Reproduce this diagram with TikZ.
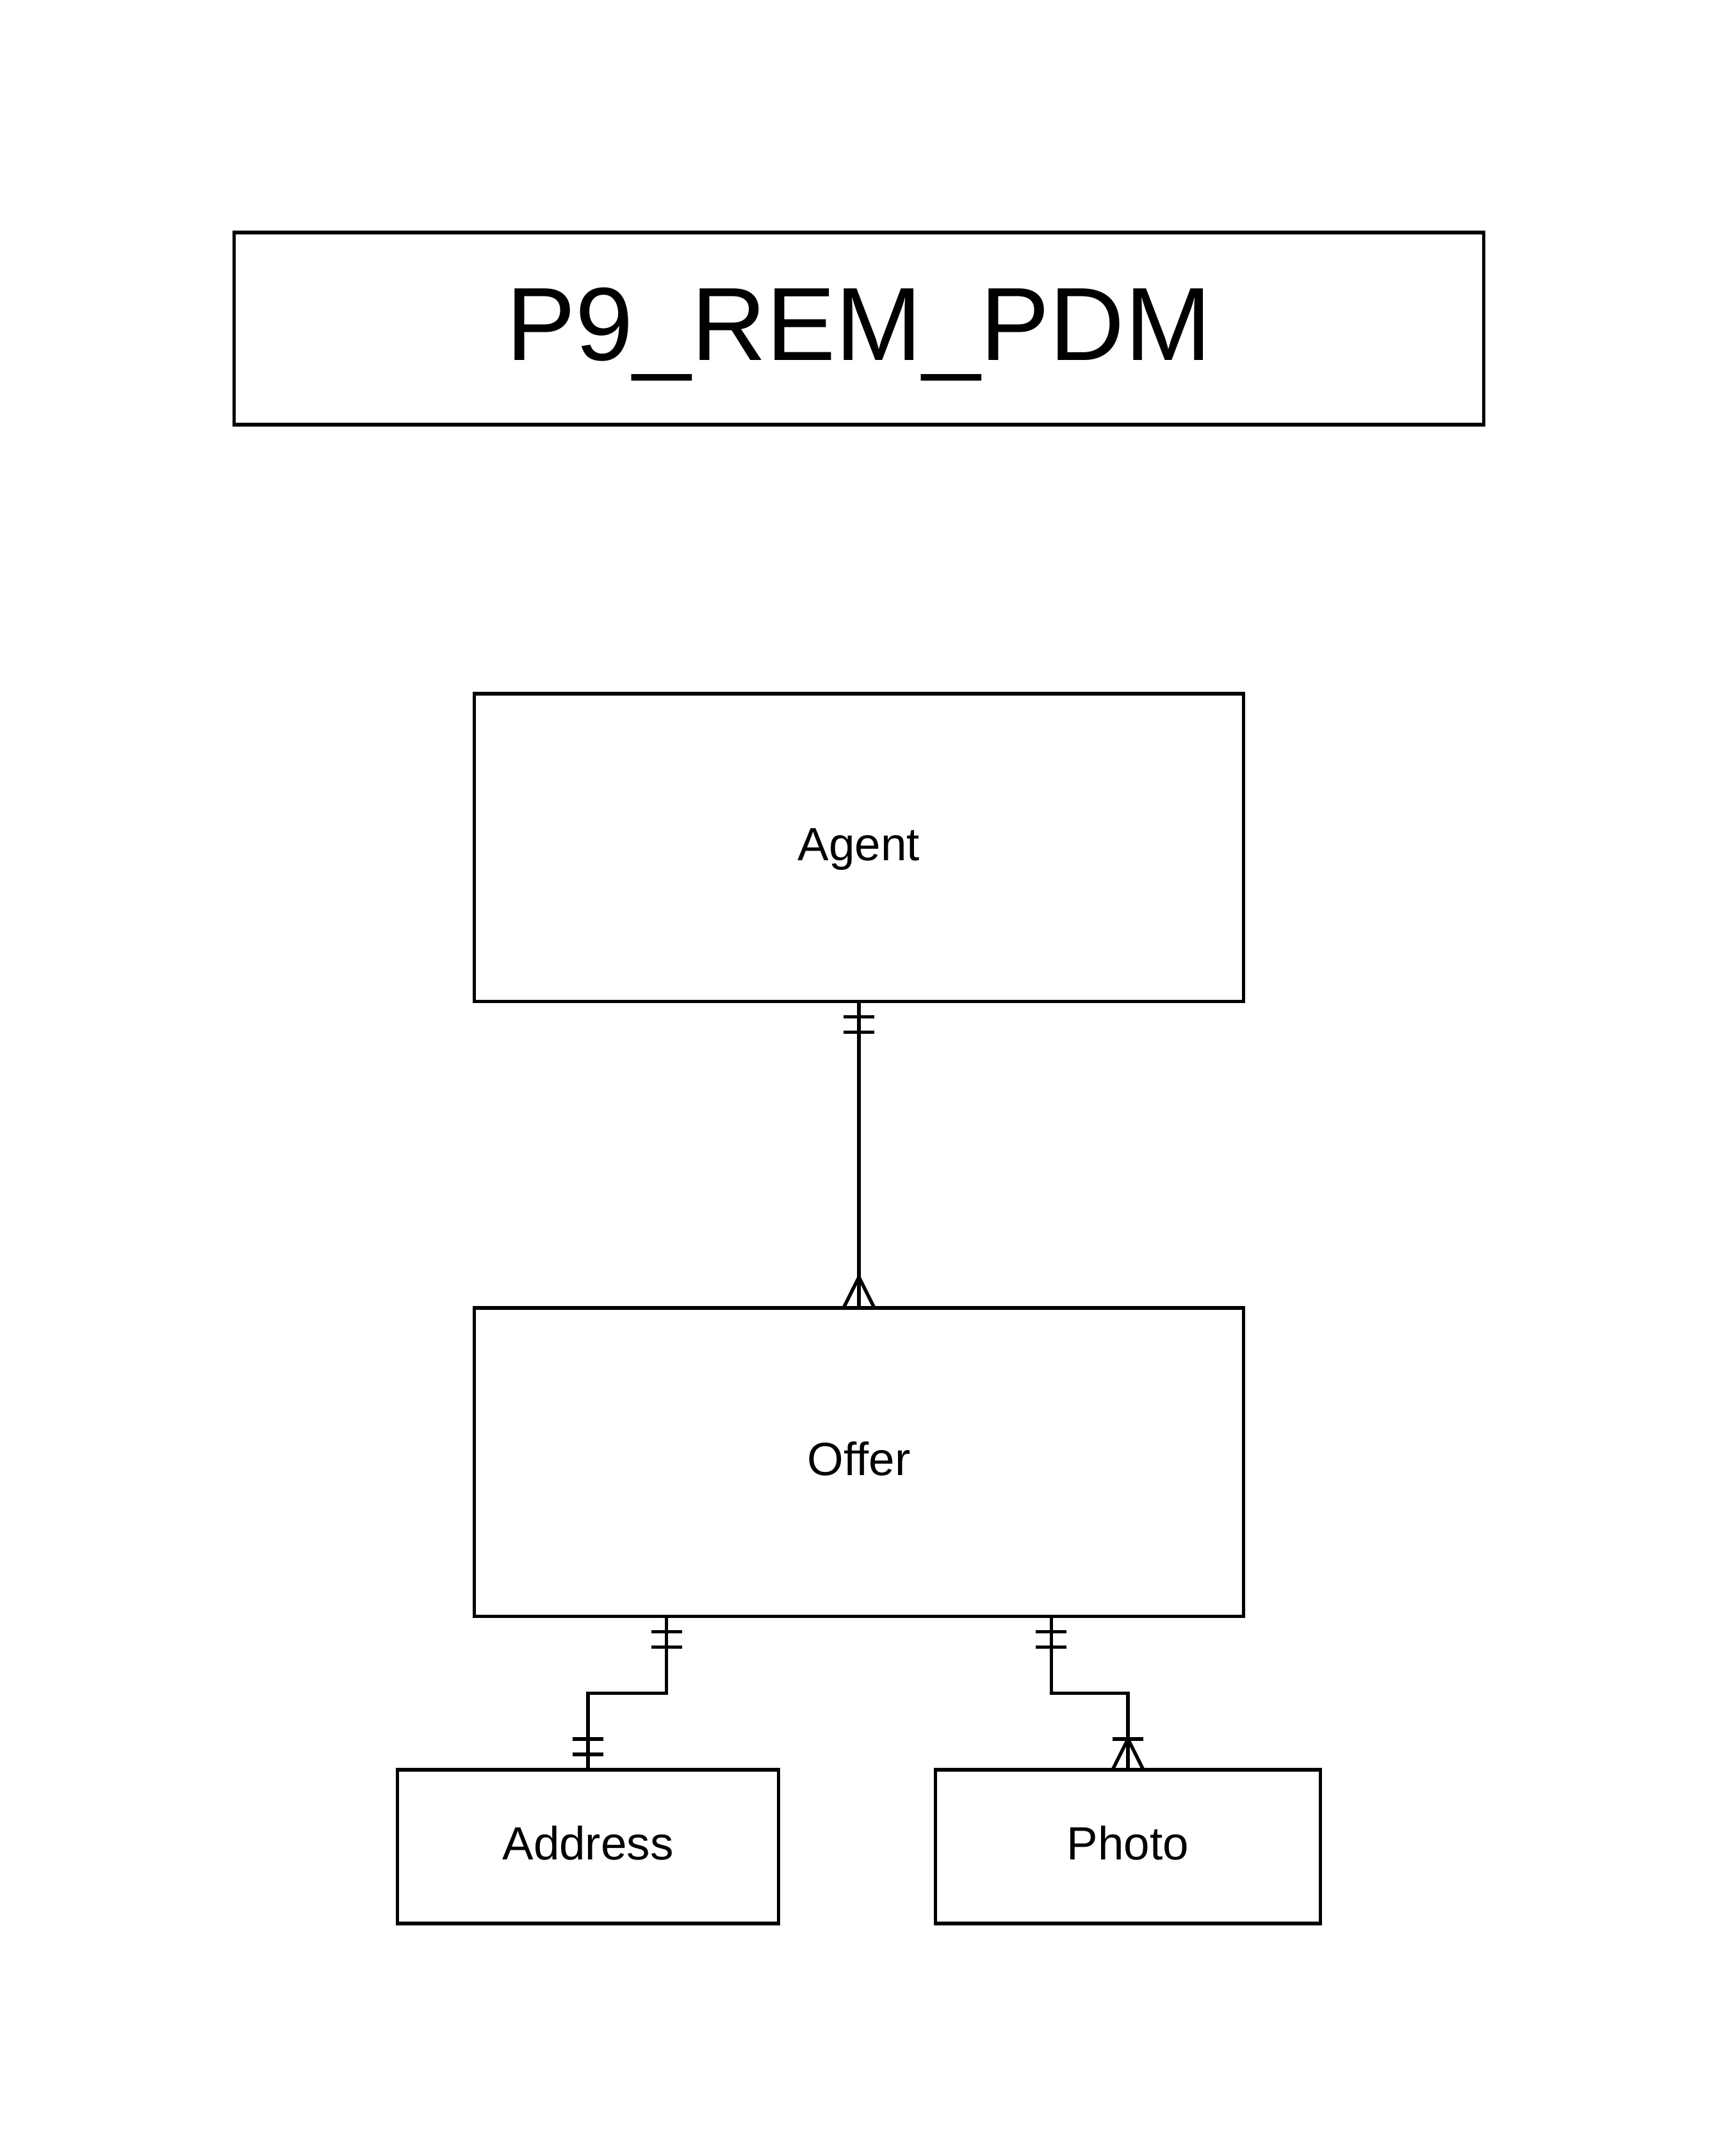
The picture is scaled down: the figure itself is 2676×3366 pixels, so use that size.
\documentclass[tikz,border=0pt]{standalone}
\usepackage{fontspec}
\setmainfont{Liberation Sans}
\usepackage{tikz}
\usetikzlibrary{
    calc,
    positioning
}
\tikzset{
    entity/.style={draw, rectangle, outer sep=0pt, inner sep=0pt,
        font=\fontsize{20.7}{24}\selectfont, text height=18.6pt, text depth=6.7pt},
    titlebox/.style={draw, rectangle, outer sep=0pt, inner sep=0pt,
        minimum width=19.5cm, minimum height=3cm,
        font=\fontsize{46.2}{55}\selectfont, text height=41.6pt, text depth=13.2pt},
    pics/exactlyone/.style={code={
        \draw (-24, 24) -- (24, 24);
        \draw (-24, 48) -- (24, 48);
    }},
    pics/many/.style={code={
        \draw (-24, 0) -- (0, 48) -- (24, 0);
    }},
    pics/oneormany/.style={code={
        \draw (-24, 48) -- (24, 48);
        \draw (-24, 0) -- (0, 48) -- (24, 0);
    }}
}

\begin{document}
\begin{tikzpicture}[x=0.01cm, y=-0.01cm, line width=1.51pt]
    \useasboundingbox (0, 0) rectangle (2676, 3366);
    \node[titlebox] (title) at (1341, 513) {P9\_REM\_PDM};
    \node[entity, minimum width=12cm, minimum height=4.8cm] (agent) at (1341, 1323) {Agent};
    \node[entity, minimum width=12cm, minimum height=4.81cm] (offer) at (1341, 2282.5) {Offer};
    \node[entity, minimum width=5.94cm, minimum height=2.4cm] (address) at (918, 2883) {Address};
    \node[entity, minimum width=6cm, minimum height=2.4cm] (photo) at (1761, 2883) {Photo};
    \coordinate (offer a) at ([xshift=-3cm]offer.south);
    \coordinate (offer p) at ([xshift=3cm]offer.south);
    \draw (agent.south) -- (offer.north);
    \draw (offer a) -- ++(0, 120) -| (address.north);
    \draw (offer p) -- ++(0, 120) -| (photo.north);
    \pic at (agent.south) {exactlyone};
    \pic[rotate=180] at (offer.north) {many};
    \pic at (offer a) {exactlyone};
    \pic[rotate=180] at (address.north) {exactlyone};
    \pic at (offer p) {exactlyone};
    \pic[rotate=180] at (photo.north) {oneormany};
\end{tikzpicture}
\end{document}
